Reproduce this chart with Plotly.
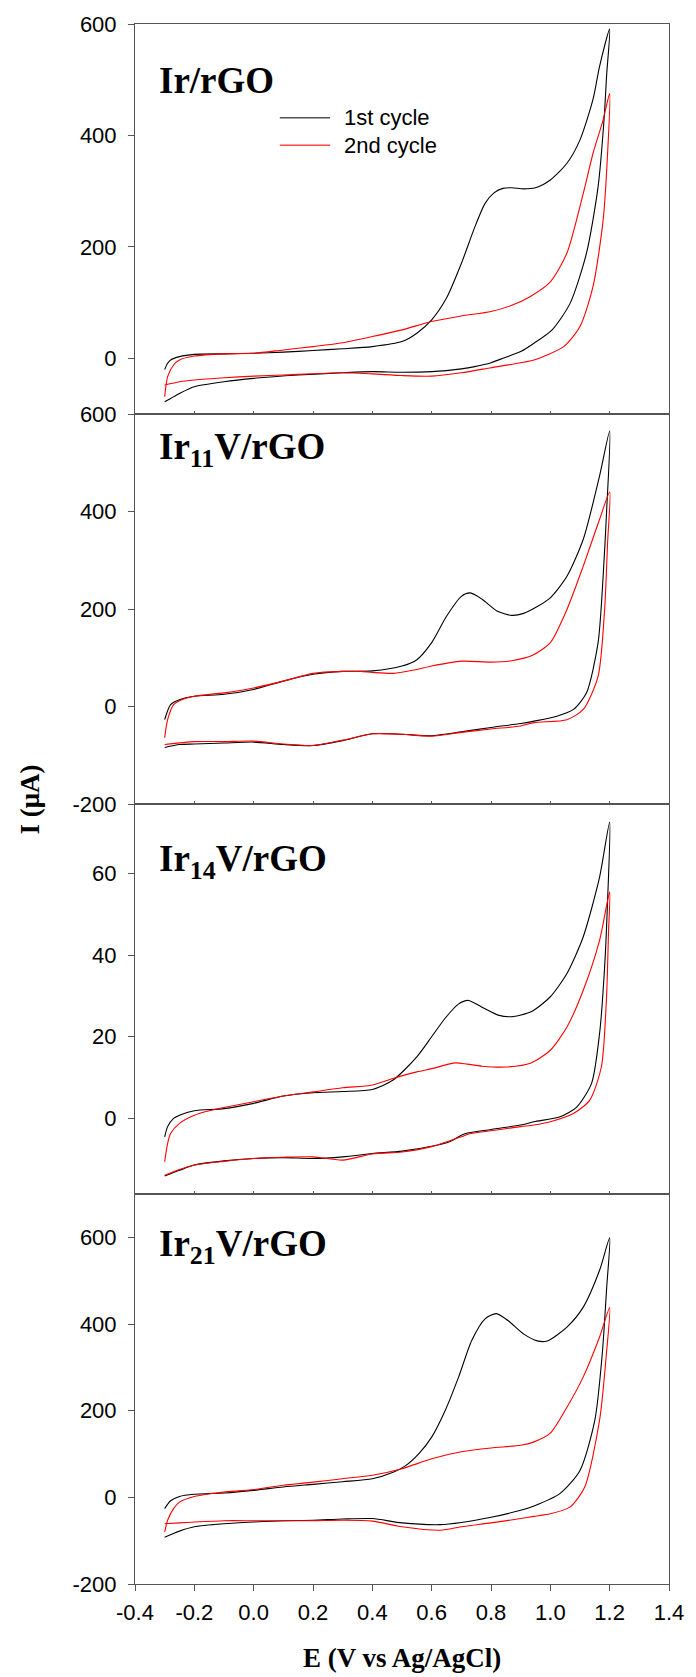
import plotly.graph_objects as go
from plotly.subplots import make_subplots

# ---------------- data (E in V vs Ag/AgCl, I in uA) ----------------
panel_titles = ["Ir/rGO", "Ir<sub>11</sub>V/rGO", "Ir<sub>14</sub>V/rGO", "Ir<sub>21</sub>V/rGO"]
series_names = ["1st cycle", "2nd cycle"]

# Panel 1: Ir/rGO
p1_c1_E = [-0.3, -0.29, -0.28, -0.25, -0.2, -0.1, 0.0, 0.1, 0.2, 0.3, 0.4, 0.5, 0.55, 0.6, 0.65, 0.7, 0.745, 0.78, 0.81, 0.84, 0.87, 0.91, 0.95, 1.0, 1.056, 1.1, 1.144, 1.166, 1.2,
           1.19, 1.181, 1.161, 1.122, 1.067, 1.006, 0.945, 0.9, 0.845, 0.8, 0.745, 0.7, 0.6, 0.5, 0.4, 0.3, 0.15, 0.0, -0.1, -0.2, -0.25, -0.28, -0.3]
p1_c1_I = [-20, -9, -3, 3, 7, 8, 9, 11, 14, 17, 21, 30, 45, 69, 108, 170, 235, 278, 297, 305, 306, 304, 306, 320, 350, 392, 465, 524, 591,
           510, 428, 308, 189, 99, 51, 27, 12, 1, -8, -15, -19, -24, -25, -24, -26, -30, -36, -42, -51, -63, -72, -78]
p1_c2_E = [-0.3, -0.29, -0.27, -0.25, -0.2, -0.1, 0.0, 0.1, 0.2, 0.3, 0.4, 0.5, 0.6, 0.7, 0.8, 0.87, 0.93, 1.0, 1.056, 1.111, 1.144, 1.178, 1.2,
           1.193, 1.178, 1.144, 1.1, 1.045, 0.945, 0.9, 0.8, 0.7, 0.6, 0.5, 0.4, 0.3, 0.1, 0.0, -0.1, -0.2, -0.25, -0.3]
p1_c2_I = [-69, -33, -12, -3, 4, 8, 9, 15, 21, 28, 39, 51, 66, 76, 84, 95, 110, 137, 189, 296, 368, 428, 475,
           368, 248, 129, 57, 21, -3, -8, -17, -26, -32, -31, -28, -26, -30, -32, -35, -39, -42, -48]

# Panel 2: Ir11V/rGO
p2_c1_E = [-0.3, -0.28, -0.25, -0.2, -0.1, 0.0, 0.1, 0.2, 0.3, 0.4, 0.5, 0.55, 0.6, 0.65, 0.7, 0.73, 0.77, 0.82, 0.87, 0.91, 0.95, 1.0, 1.056, 1.111, 1.166, 1.2,
           1.19, 1.178, 1.161, 1.122, 1.078, 1.022, 0.945, 0.9, 0.8, 0.7, 0.6, 0.5, 0.4, 0.3, 0.2, 0.1, 0.0, -0.1, -0.2, -0.25, -0.3]
p2_c1_I = [-27, 4, 14, 21, 25, 35, 52, 66, 72, 73, 83, 96, 131, 185, 226, 233, 220, 196, 187, 191, 203, 223, 267, 343, 473, 565,
           404, 267, 131, 28, -6, -20, -30, -35, -43, -52, -60, -57, -56, -70, -80, -78, -73, -75, -77, -78, -84]
p2_c2_E = [-0.3, -0.29, -0.27, -0.25, -0.2, -0.1, 0.0, 0.1, 0.2, 0.3, 0.36, 0.4, 0.47, 0.55, 0.6, 0.7, 0.8, 0.87, 0.94, 1.0, 1.056, 1.111, 1.166, 1.2,
           1.193, 1.183, 1.161, 1.111, 1.056, 0.945, 0.9, 0.8, 0.7, 0.6, 0.5, 0.4, 0.3, 0.2, 0.1, 0.0, -0.1, -0.2, -0.3]
p2_c2_I = [-64, -27, 4, 12, 21, 28, 38, 52, 68, 72, 72, 70, 68, 76, 83, 93, 91, 94, 105, 131, 199, 288, 384, 440,
           336, 199, 62, -6, -27, -33, -40, -46, -53, -61, -57, -56, -69, -80, -77, -71, -72, -72, -78]

# Panel 3: Ir14V/rGO
p3_c1_E = [-0.3, -0.29, -0.27, -0.25, -0.2, -0.1, 0.0, 0.1, 0.2, 0.3, 0.4, 0.47, 0.55, 0.6, 0.646, 0.69, 0.724, 0.768, 0.824, 0.868, 0.935, 1.0, 1.056, 1.111, 1.166, 1.2,
           1.193, 1.183, 1.166, 1.139, 1.089, 1.033, 0.945, 0.9, 0.8, 0.725, 0.7, 0.66, 0.6, 0.5, 0.4, 0.3, 0.2, 0.1, 0.0, -0.1, -0.2, -0.25, -0.3]
p3_c1_I = [-4.5, -2.0, 0.0, 0.8, 1.9, 2.4, 3.7, 5.5, 6.3, 6.6, 7.1, 9.4, 15.1, 20.0, 24.6, 28.0, 28.9, 27.3, 25.3, 24.9, 26.1, 29.8, 35.5, 44.5, 59.1, 72.6,
           53.4, 37.1, 20.8, 8.6, 2.8, 0.4, -0.8, -1.6, -2.7, -3.5, -4.1, -5.7, -6.8, -8.0, -8.6, -9.4, -9.8, -9.6, -9.8, -10.4, -11.4, -12.7, -14.1]
p3_c2_E = [-0.3, -0.29, -0.28, -0.25, -0.2, -0.15, -0.1, 0.0, 0.1, 0.2, 0.3, 0.4, 0.47, 0.55, 0.6, 0.68, 0.72, 0.77, 0.85, 0.935, 1.0, 1.056, 1.111, 1.166, 1.2,
           1.196, 1.189, 1.172, 1.133, 1.078, 1.0, 0.945, 0.9, 0.8, 0.725, 0.7, 0.6, 0.5, 0.4, 0.3, 0.2, 0.1, 0.0, -0.1, -0.2, -0.25, -0.3]
p3_c2_I = [-10.6, -6.1, -3.7, -1.2, 0.8, 1.9, 2.7, 4.1, 5.5, 6.5, 7.5, 8.2, 9.8, 11.4, 12.2, 13.6, 13.3, 12.8, 12.6, 13.6, 16.7, 22.4, 31.4, 43.6, 55.5,
           45.3, 29.0, 12.6, 4.5, 1.2, -0.8, -1.6, -2.0, -3.0, -3.8, -4.5, -6.9, -8.2, -8.7, -10.2, -9.4, -9.5, -9.8, -10.5, -11.4, -12.5, -13.9]

# Panel 4: Ir21V/rGO
p4_c1_E = [-0.3, -0.28, -0.25, -0.2, -0.1, 0.0, 0.1, 0.2, 0.3, 0.4, 0.47, 0.51, 0.557, 0.6, 0.646, 0.691, 0.735, 0.78, 0.818, 0.857, 0.912, 0.956, 0.99, 1.056, 1.111, 1.166, 1.2,
           1.19, 1.175, 1.15, 1.1, 1.033, 0.945, 0.9, 0.8, 0.7, 0.63, 0.5, 0.4, 0.3, 0.2, 0.1, 0.0, -0.1, -0.2, -0.25, -0.3]
p4_c1_I = [-26, -8, 2, 7, 10, 16, 24, 30, 36, 43, 58, 72, 101, 139, 201, 278, 362, 412, 424, 408, 376, 361, 361, 393, 439, 524, 599,
           485, 331, 178, 62, 9, -20, -30, -46, -58, -63, -59, -49, -50, -53, -54, -57, -61, -68, -78, -92]
p4_c2_E = [-0.3, -0.29, -0.27, -0.25, -0.2, -0.15, -0.1, 0.0, 0.1, 0.2, 0.3, 0.4, 0.5, 0.6, 0.7, 0.8, 0.9, 0.945, 1.0, 1.056, 1.111, 1.166, 1.2,
           1.189, 1.166, 1.116, 1.067, 1.0, 0.945, 0.9, 0.8, 0.7, 0.63, 0.5, 0.4, 0.3, 0.2, 0.1, 0.0, -0.1, -0.2, -0.25, -0.3]
p4_c2_I = [-80, -53, -26, -11, 2, 8, 12, 18, 28, 35, 43, 51, 66, 89, 105, 114, 120, 128, 148, 208, 278, 370, 438,
           331, 178, 24, -22, -38, -44, -49, -59, -68, -76, -68, -55, -53, -54, -54, -54, -54, -57, -59, -61]

y_ranges = [[-100, 600], [-200, 600], [-18.5, 77], [-200, 700]]
y_ticks = [[0, 200, 400, 600], [-200, 0, 200, 400, 600], [0, 20, 40, 60], [-200, 0, 200, 400, 600]]
x_ticks = [-0.4, -0.2, 0.0, 0.2, 0.4, 0.6, 0.8, 1.0, 1.2, 1.4]
x_ticklabels = ["-0.4", "-0.2", "0.0", "0.2", "0.4", "0.6", "0.8", "1.0", "1.2", "1.4"]

panels = [
    (p1_c1_E, p1_c1_I, p1_c2_E, p1_c2_I),
    (p2_c1_E, p2_c1_I, p2_c2_E, p2_c2_I),
    (p3_c1_E, p3_c1_I, p3_c2_E, p3_c2_I),
    (p4_c1_E, p4_c1_I, p4_c2_E, p4_c2_I),
]

# ---------------- figure ----------------
W, H = 696, 1677
ML, MR, MT, MB = 135, 19, 24, 93
PW, PH = W - ML - MR, H - MT - MB


def px_x(px):
    return (px - ML) / PW


def px_y(py):
    return (H - MB - py) / PH


fig = make_subplots(rows=4, cols=1, shared_xaxes=True, vertical_spacing=0)

colors = ["#000000", "#ff0000"]
for r, (e1, i1, e2, i2) in enumerate(panels, start=1):
    for k, (e, i) in enumerate([(e1, i1), (e2, i2)]):
        fig.add_trace(go.Scatter(x=e, y=i, mode="lines", name=series_names[k],
                                 line=dict(color=colors[k], width=1.1, shape="spline", smoothing=0.7),
                                 showlegend=False, hoverinfo="skip"), row=r, col=1)

axis_col = "#555555"
tick_font = dict(family="Liberation Sans, Arial, sans-serif", size=22, color="#000")
for r in range(1, 5):
    fig.update_yaxes(row=r, col=1, range=y_ranges[r - 1], tickvals=y_ticks[r - 1],
                     ticktext=[str(v) for v in y_ticks[r - 1]],
                     showline=True, linecolor=axis_col, linewidth=1, mirror=True,
                     ticks="outside", ticklen=6, tickcolor=axis_col, tickwidth=1,
                     ticklabelstandoff=7,
                     showgrid=False, zeroline=False, tickfont=tick_font)
    fig.update_xaxes(row=r, col=1, range=[-0.4, 1.4], tickvals=x_ticks, ticktext=x_ticklabels,
                     showline=True, linecolor=axis_col, linewidth=1, mirror=True,
                     ticks="outside" if r == 4 else "inside", ticklen=6 if r == 4 else 3,
                     tickcolor=axis_col, tickwidth=1, ticklabelstandoff=3,
                     showgrid=False, zeroline=False, tickfont=tick_font,
                     showticklabels=(r == 4))

title_font = dict(family="Liberation Serif, Times New Roman, serif", size=37, color="#000")
title_y = [81, 449, 861, 1246]
annotations = []
for t, yy in zip(panel_titles, title_y):
    annotations.append(dict(text="<b>" + t + "</b>", x=px_x(157), y=px_y(yy), xref="paper", yref="paper",
                            xanchor="left", yanchor="middle", showarrow=False, font=title_font))

# axis titles
ax_font = dict(family="Liberation Serif, Times New Roman, serif", size=27, color="#000")
annotations.append(dict(text="<b>I (\u03bcA)</b>", x=px_x(28), y=px_y(800), xref="paper", yref="paper",
                        xanchor="center", yanchor="middle", textangle=-90, showarrow=False, font=ax_font))
annotations.append(dict(text="<b>E (V vs Ag/AgCl)</b>", x=px_x(406), y=px_y(1658), xref="paper", yref="paper",
                        xanchor="center", yanchor="middle", showarrow=False, font=ax_font))

# legend (panel 1)
leg_font = dict(family="Liberation Sans, Arial, sans-serif", size=22, color="#000")
leg_y = [117.7, 145.3]
leg_cols = ["rgb(80,80,80)", "rgb(255,70,70)"]
shapes = []
for name, yy, c in zip(series_names, leg_y, leg_cols):
    shapes.append(dict(type="line", xref="paper", yref="paper", x0=px_x(282), x1=px_x(333),
                       y0=px_y(yy), y1=px_y(yy), line=dict(color=c, width=1.6)))
    annotations.append(dict(text=name, x=px_x(345), y=px_y(yy), xref="paper", yref="paper",
                            xanchor="left", yanchor="middle", showarrow=False, font=leg_font))

fig.update_layout(width=W, height=H, autosize=False,
                  margin=dict(l=ML, r=MR, t=MT, b=MB),
                  paper_bgcolor="white", plot_bgcolor="white",
                  showlegend=False, annotations=annotations, shapes=shapes)

fig.write_html("out.html", config={"displayModeBar": False},
               post_script="document.body.style.margin='0';document.body.style.overflow='hidden';")
